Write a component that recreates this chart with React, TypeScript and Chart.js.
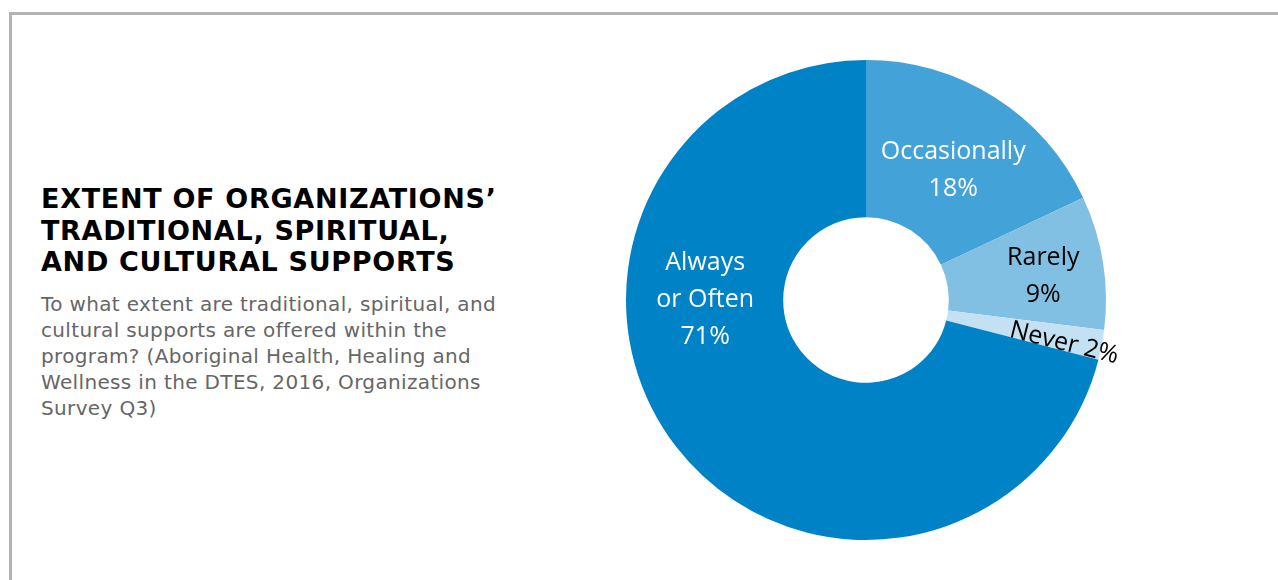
import React, { useEffect, useRef } from "react";
import { Chart, registerables } from "chart.js";

Chart.register(...registerables);

const categories = ["Occasionally", "Rarely", "Never", "Always or Often"];
const values = [18, 9, 2, 71];
const labelLines = [["Occasionally", "18%"], ["Rarely", "9%"], ["Never 2%"], ["Always", "or Often", "71%"]];
const colors = ["#43a2d7", "#81bfe3", "#c4e1f3", "#0082c6"];
const labelColors = ["#ffffff", "#000000", "#000000", "#ffffff"];
// label placement: angle (deg clockwise from top), radius fraction of outer radius, rotation (deg)
const labelAngle = [34, 82.5, 102.3, 270];
const labelRadius = [0.65, 0.745, 0.845, 0.67];
const labelRotation = [0, 0, 14, 0];

const titleLines = ["EXTENT OF ORGANIZATIONS’", "TRADITIONAL, SPIRITUAL,", "AND CULTURAL SUPPORTS"];
const subtitleLines = [
  "To what extent are traditional, spiritual, and",
  "cultural supports are offered within the",
  "program? (Aboriginal Health, Healing and",
  "Wellness in the DTES, 2016, Organizations",
  "Survey Q3)",
];

const labelPlugin = {
  id: "sliceLabels",
  afterDatasetsDraw(chart: any) {
    const meta = chart.getDatasetMeta(0);
    const ctx = chart.ctx;
    meta.data.forEach((arc: any, i: number) => {
      const { x, y, outerRadius } = arc.getProps(["x", "y", "outerRadius"], true);
      const a = (labelAngle[i] * Math.PI) / 180;
      const r = outerRadius * labelRadius[i];
      const cx = x + Math.sin(a) * r;
      const cy = y - Math.cos(a) * r;
      const lines = labelLines[i];
      const lh = 37;
      ctx.save();
      ctx.translate(cx, cy);
      ctx.rotate((labelRotation[i] * Math.PI) / 180);
      ctx.fillStyle = labelColors[i];
      ctx.font = "25px 'Open Sans', sans-serif";
      ctx.textAlign = "center";
      ctx.textBaseline = "middle";
      lines.forEach((t, j) => {
        ctx.fillText(t, 0, (j - (lines.length - 1) / 2) * lh);
      });
      ctx.restore();
    });
  },
};

export default function App() {
  const ref = useRef<HTMLCanvasElement>(null);
  useEffect(() => {
    if (!ref.current) return;
    const chart = new Chart(ref.current, {
      type: "doughnut",
      data: {
        labels: categories,
        datasets: [{ data: values, backgroundColor: colors, borderWidth: 0 }],
      },
      options: {
        animation: false,
        responsive: false,
        maintainAspectRatio: false,
        cutout: "34.5%",
        layout: { padding: 20 },
        plugins: { legend: { display: false }, tooltip: { enabled: false } },
      },
      plugins: [labelPlugin],
    });
    return () => chart.destroy();
  }, []);

  return (
    <div style={{ position: "fixed", left: 0, top: 0, width: 1278, height: 580, background: "#fff", overflow: "hidden" }}>
      <div
        style={{
          position: "absolute",
          left: 9,
          top: 12,
          right: 0,
          bottom: 0,
          borderTop: "3px solid #b3b3b3",
          borderLeft: "3px solid #b3b3b3",
        }}
      />
      <div style={{ position: "absolute", left: 41, top: 183, fontFamily: "'DejaVu Sans', sans-serif" }}>
        {titleLines.map((t, i) => (
          <div key={i} style={{ fontSize: 27, fontWeight: 700, lineHeight: "31.5px", color: "#000", whiteSpace: "nowrap", letterSpacing: 0.7 }}>
            {t}
          </div>
        ))}
        <div style={{ marginTop: 13 }}>
          {subtitleLines.map((t, i) => (
            <div key={i} style={{ fontSize: 20, lineHeight: "26px", color: "#666", whiteSpace: "nowrap", letterSpacing: 0.35 }}>
              {t}
            </div>
          ))}
        </div>
      </div>
      <canvas ref={ref} width={520} height={520} style={{ position: "absolute", left: 606, top: 40, width: 520, height: 520 }} />
    </div>
  );
}
